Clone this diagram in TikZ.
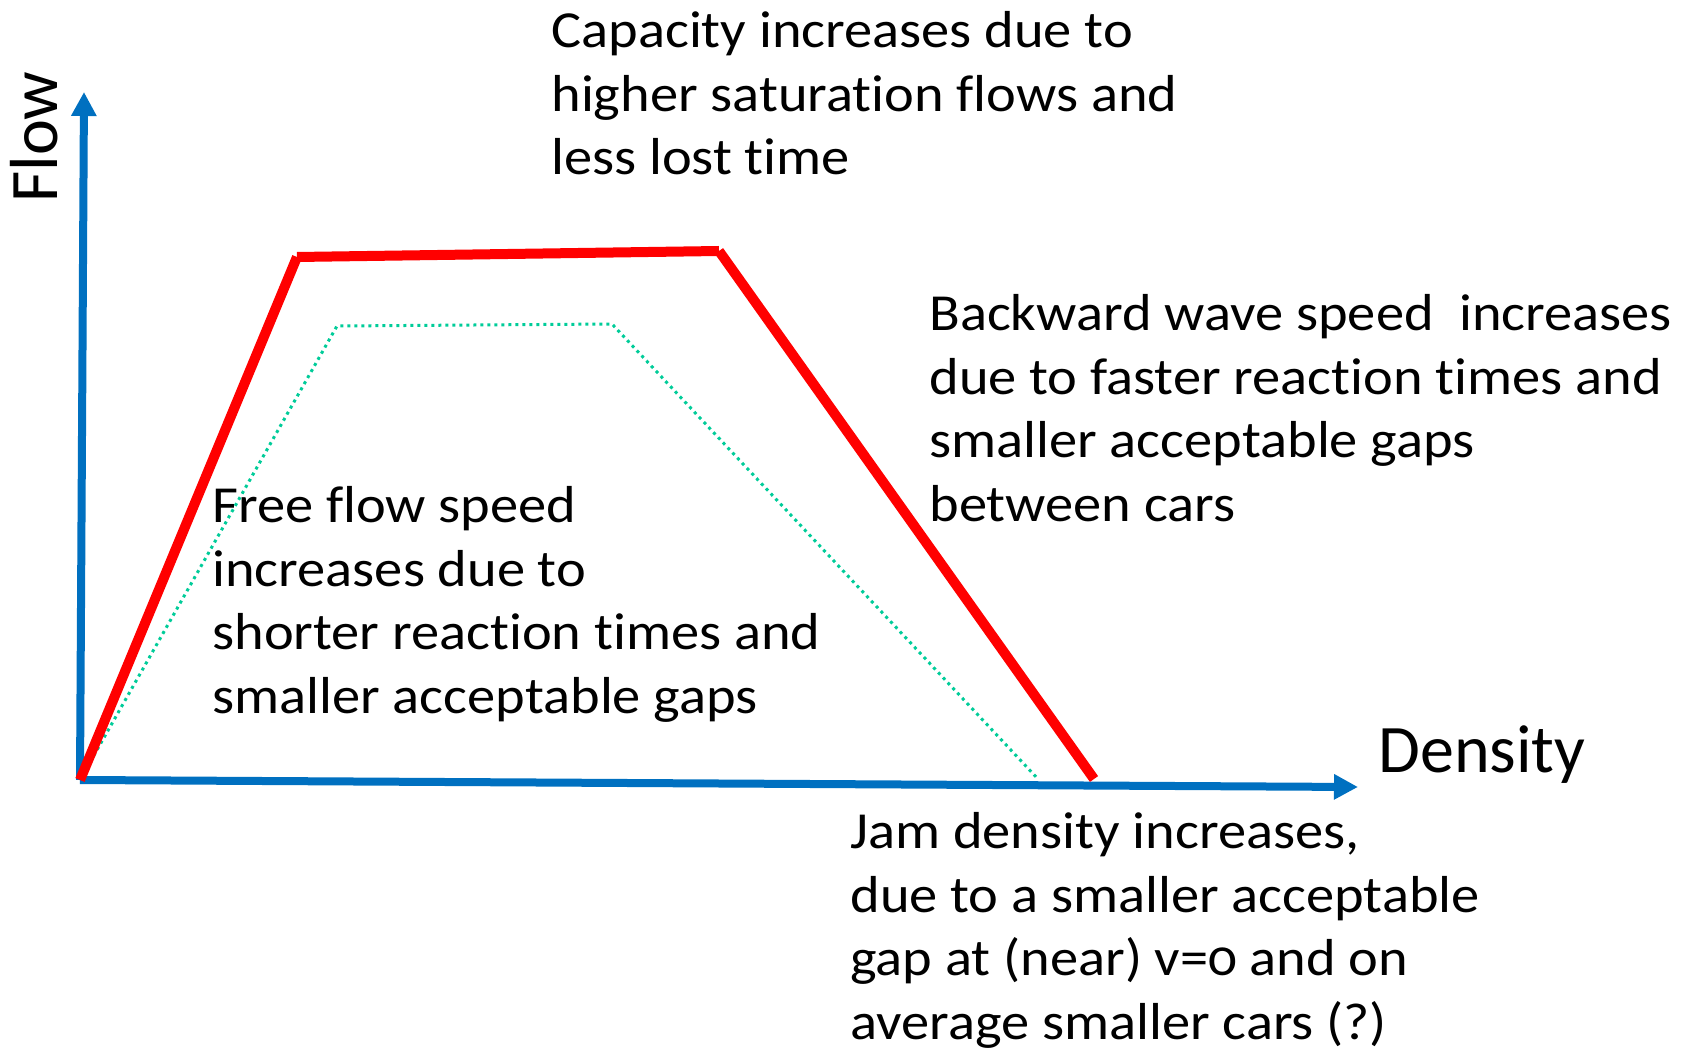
\documentclass[tikz,border=0pt]{standalone}
\usepackage{fontspec}
\setmainfont{Carlito}[Numbers=OldStyle,Ligatures=NoCommon]
\newfontfamily\notefont{Carlito}[Numbers=OldStyle,Ligatures=NoCommon,FakeStretch=1.085]
\usepackage{tikz}
\usetikzlibrary{arrows.meta}
\definecolor{axisblue}{RGB}{0,112,192}
\definecolor{dotgreen}{RGB}{0,204,153}
\tikzset{
  axis/.style={line width=4pt,draw=axisblue,-{Triangle[length=12pt,width=12pt]}},
  newfd/.style={line width=5pt,draw=red},
  oldfd/.style={line width=1.5pt,draw=dotgreen,dotted},
  note/.style={align=left,inner sep=0pt,anchor=north west,font=\notefont\fontsize{26}{31.8}\selectfont},
  axlabel/.style={inner sep=0pt,anchor=base west,font=\fontsize{34}{40}\selectfont}
}
\begin{document}
\begin{tikzpicture}[x=0.5pt,y=-0.5pt]
\useasboundingbox (0,0) rectangle (1682,1053);
\coordinate (O) at (80,780);
\coordinate (ytip) at (84,92);
\coordinate (xtip) at (1358,787);
\coordinate (r1) at (297,257);
\coordinate (r2) at (719,251);
\coordinate (r3) at (1094,779);
\coordinate (g1) at (337,326);
\coordinate (g2) at (612,324);
\coordinate (g3) at (1038,779);
\draw[oldfd] (O) -- (g1) -- (g2) -- (g3);
\draw[axis] (O) -- (ytip);
\draw[axis] (O) -- (xtip);
\draw[newfd] (O) -- (r1);
\draw[newfd] (r1) -- (r2);
\draw[newfd] (r2) -- (r3);
\node[axlabel,rotate=90] (flow) at (57,203) {Flow};
\node[axlabel] (density) at (1378,772) {Density};
\node[note] (capacity) at (551,11) {Capacity increases due to\\higher saturation flows and\\less lost time};
\node[note] (backward) at (929,294) {Backward wave speed\ \ increases\\due to faster reaction times and\\smaller acceptable gaps\\between cars};
\node[note] (freeflow) at (212,486) {Free flow speed\\increases due to\\shorter reaction times and\\smaller acceptable gaps};
\node[note] (jam) at (850,812) {Jam density increases,\\due to a smaller acceptable\\gap at (near) v=0 and on\\average smaller cars (?)};
\end{tikzpicture}
\end{document}
